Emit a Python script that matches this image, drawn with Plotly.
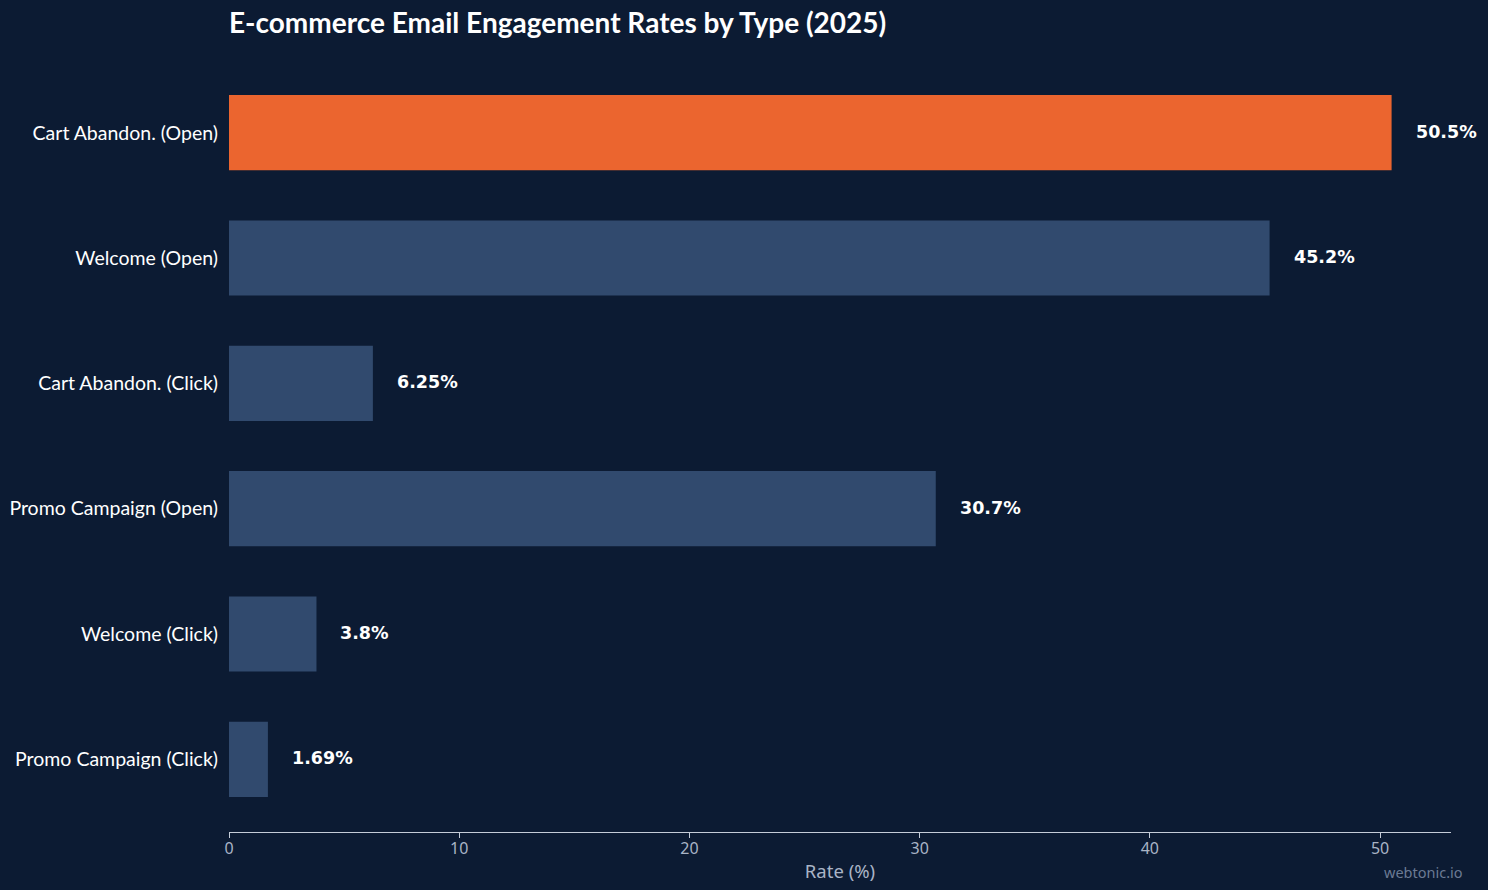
import plotly.graph_objects as go

categories = ["Cart Abandon. (Open)", "Welcome (Open)", "Cart Abandon. (Click)",
              "Promo Campaign (Open)", "Welcome (Click)", "Promo Campaign (Click)"]
values = [50.5, 45.2, 6.25, 30.7, 3.8, 1.69]
value_labels = ["50.5%", "45.2%", "6.25%", "30.7%", "3.8%", "1.69%"]
tick_vals = [0, 10, 20, 30, 40, 50]

BG = "#0C1B33"
HIGHLIGHT = "#EB652F"
BASE = "#314A6E"
colors = [HIGHLIGHT if i == 0 else BASE for i in range(len(values))]

fig = go.Figure()
fig.add_trace(go.Bar(
    x=values, y=categories, orientation="h",
    marker=dict(color=colors, line=dict(width=0)),
    width=0.6, hoverinfo="x+y",
))

for c, v, t in zip(categories, values, value_labels):
    fig.add_annotation(x=v, y=c, text=t, showarrow=False, xanchor="left",
                       xshift=22, yshift=1,
                       font=dict(family="DejaVu Sans", size=17.5, color="#FFFFFF", weight="bold"))

fig.add_annotation(text="webtonic.io", xref="paper", yref="paper", x=1.0, y=0,
                   xanchor="right", yanchor="top", yshift=-28, xshift=14, showarrow=False,
                   font=dict(family="Noto Sans", size=14.5, color="#6B7A93"))

fig.update_layout(
    width=1488, height=890,
    paper_bgcolor=BG, plot_bgcolor=BG,
    margin=dict(l=229, r=37, t=60, b=58),
    title=dict(text="<b>E-commerce Email Engagement Rates by Type (2025)</b>",
               x=229/1488, xanchor="left", y=1 - 23/890, yanchor="middle",
               font=dict(family="Lato", size=28, color="#FFFFFF")),
    showlegend=False,
    bargap=0.4,
)
fig.update_xaxes(
    range=[0, 53.08], tickvals=tick_vals, showgrid=False, zeroline=False,
    showline=True, linecolor="#C5CCD8", linewidth=1, automargin=False,
    ticks="outside", ticklen=5, tickcolor="#C5CCD8", ticklabelstandoff=-3,
    tickfont=dict(family="Noto Sans", size=16, color="#A9B4C6"),
    title=dict(text="Rate (%)", font=dict(family="Noto Sans", size=18.5, color="#A9B4C6"), standoff=6),
)
fig.update_yaxes(
    categoryorder="array", categoryarray=categories,
    range=[5.58, -0.58], showgrid=False, zeroline=False, showline=False,
    ticks="", ticklabelstandoff=10, automargin=False,
    tickfont=dict(family="Lato", size=19.5, color="#FFFFFF"),
)

fig.write_html("out.html")
